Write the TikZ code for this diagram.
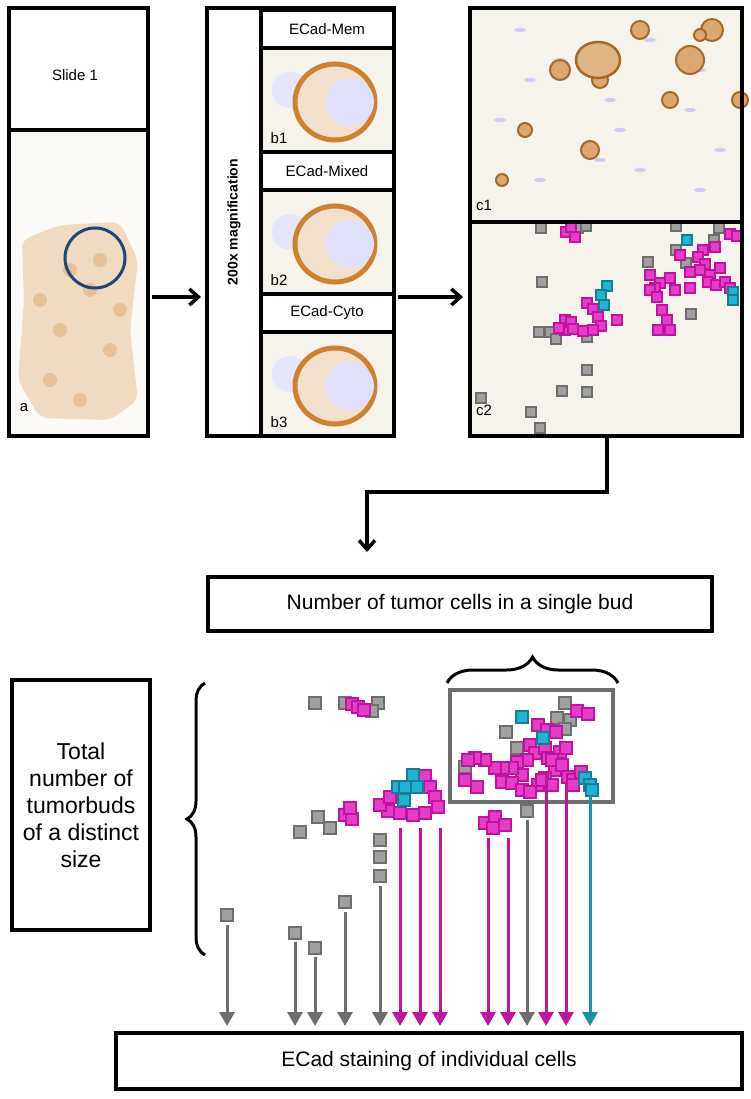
\documentclass[tikz,border=0pt]{standalone}
\usepackage{fontspec}
\setmainfont{Liberation Sans}
\usetikzlibrary{arrows.meta,decorations.pathreplacing}
\definecolor{budmag}{RGB}{230,60,200}
\definecolor{budmagd}{RGB}{190,20,160}
\definecolor{budcya}{RGB}{30,180,210}
\definecolor{budgry}{RGB}{160,160,160}
\definecolor{budgryd}{RGB}{110,110,110}
\definecolor{stain}{RGB}{205,130,50}
\definecolor{tissue}{RGB}{246,242,236}
\newcommand\sqsize{6}

\begin{document}
\begin{tikzpicture}[x=1pt,y=-1pt,
panel/.style={draw=black,line width=4pt},
lab/.style={font=\fontsize{15}{17}\selectfont},
magsq/.style={fill=budmag,draw=budmagd,line width=1.2pt},
cyasq/.style={fill=budcya,draw=budcya!70!black,line width=1.2pt},
grysq/.style={fill=budgry,draw=budgryd,line width=1.2pt},
magarr/.style={draw=budmagd,line width=3pt,-{Triangle[length=14pt,width=15pt]}},
cyaarr/.style={draw=budcya!80!black,line width=3pt,-{Triangle[length=14pt,width=15pt]}},
gryarr/.style={draw=budgryd,line width=3pt,-{Triangle[length=14pt,width=15pt]}},
flowarr/.style={line width=3.5pt,-{Straight Barb[length=9pt,width=16pt]}}
]
\useasboundingbox (0,0) rectangle (750,1099);

% panel a
\fill[tissue!40] (11,132) rectangle (146,434);
\fill[stain!30,rounded corners=8pt] (22,240) -- (60,225) -- (120,222) -- (138,260) -- (130,330) -- (138,400) -- (110,420) -- (40,418) -- (18,380) -- (24,300) -- cycle;
\foreach \px/\py in {40/300,60/330,90/290,110/350,50/380,80/400,100/260,70/270,120/310}
  \fill[stain!50] (\px,\py) circle (7);
\draw[panel] (9,8) rectangle (148,436);
\draw[panel] (9,130) -- (148,130);
\node[lab] (slide) at (75,75) {Slide 1};
\draw[draw={rgb,255:red,30;green,70;blue,120},line width=3pt] (95,258) ellipse (30 and 30);
\node[lab] (alab) at (24,408) {a};

% panel b
\draw[panel] (207,8) rectangle (394,436);
\draw[panel] (261,8) -- (261,436);
\node[rotate=90,font=\fontsize{14}{16}\selectfont\bfseries] (mag) at (234,222) {200x magnification};
\foreach \ty/\txt/\nm [count=\k] in {10/ECad-Mem/b1,152/ECad-Mixed/b2,294/ECad-Cyto/b3}{
  \draw[panel] (261,\ty) rectangle (394,\ty+38);
  \node[lab] (t\k) at (327,\ty+19) {\txt};
  \fill[tissue] (263,\ty+40) rectangle (392,\ty+140);
  \fill[black!12!blue!10] (290,\ty+80) circle (18);
  \draw[stain,line width=5pt,fill=stain!25] (335,\ty+92) ellipse (40 and 38);
  \fill[black!10!blue!12] (350,\ty+92) circle (24);
  \node[lab] (\nm) at (279,\ty+128) {\nm};
  \draw[panel] (261,\ty+38) -- (394,\ty+38) (261,\ty+142) -- (394,\ty+142);
}

% panel c
\fill[tissue] (470,8) rectangle (742,436);
\foreach \px/\py in {560/60,610/100,650/40,700/70,530/80,690/110,500/120,720/150,540/180,600/160,520/30,640/170,700/190,620/130}
  \fill[black!15!blue!20] (\px,\py) ellipse (6 and 2);
\foreach \px/\py/\r in {560/70/10,600/80/8,640/30/9,690/60/14,712/30/11,740/100/8,525/130/7,502/180/6,590/150/9,670/100/8,700/35/6}
  \draw[stain!80!black,line width=2pt,fill=stain!70] (\px,\py) circle (\r);
\draw[stain!80!black,line width=2.5pt,fill=stain!60] (598,60) ellipse (22 and 18);
\foreach \px/\py in {541/228,578/228,586/226,676/226,719/228,714/240,676/250,686/263,648/262,542/282,539/332,550/332,556/339,587/337,587/370,587/392,562/391,481/398,531/412,540/428,691/314}
  \draw[grysq] (\px-5,\py-5) rectangle ++(10,10);
\foreach \px/\py in {566/232,575/237,571/227,730/234,737/236,715/247,703/250,698/257,705/264,680/255,690/272,700/270,710/275,720/268,708/282,716/285,725/282,730/288,670/278,650/275,660/283,655/288,675/290,690/288,650/290,657/297,565/320,565/330,571/322,559/328,587/303,593/309,598/317,601/326,593/330,583/331,573/329,617/320,662/310,667/320,658/330,670/330}
  \draw[magsq] (\px-5,\py-5) rectangle ++(10,10);
\foreach \px/\py in {687/240,607/286,601/295,604/305,733/292,733/300}
  \draw[cyasq] (\px-5,\py-5) rectangle ++(10,10);
\draw[panel] (470,8) rectangle (742,436);
\draw[panel] (470,222) -- (742,222);
\node[lab] (c1) at (484,205) {c1};
\node[lab] (c2) at (484,410) {c2};

% flow
\draw[flowarr] (152,297) -- (201,297);
\draw[flowarr] (398,297) -- (463,297);
\coordinate (cdown) at (607,437);
\coordinate (tdown) at (367,552);
\draw[flowarr] (cdown) -- (607,492) -- (367,492) -- (tdown);

% lower boxes
\node[panel,minimum width=504pt,minimum height=54pt,font=\fontsize{21}{24}\selectfont] (num) at (460,604) {Number of tumor cells in a single bud};
\node[panel,minimum width=138pt,minimum height=250pt,align=center,font=\fontsize{23}{27}\selectfont] (tot) at (81,805) {Total\\number of\\tumorbuds\\of a distinct\\size};
\node[panel,minimum width=626pt,minimum height=56pt,font=\fontsize{21}{24}\selectfont] (ecad) at (429,1061) {ECad staining of individual cells};
\draw[line width=3pt,decorate,decoration={brace,amplitude=26pt}] (447,683) -- (618,683);
\draw[line width=3pt,decorate,decoration={brace,amplitude=18pt,mirror}] (205,683) -- (205,955);
\draw[budgryd,line width=3.5pt] (450,690) rectangle (613,802);

% buds
\foreach \px/\py in {315/703,345/703,378/703,372/711,318/817,330/828,300/832,565/703,557/718,570/720,565/729,506/732,517/748,465/767,527/811,227/915,295/933,315/948,345/902,380/876,380/857,380/840}
  \draw[grysq] (\px-\sqsize,\py-\sqsize) rectangle ++(12,12);
\foreach \px/\py in {352/704,358/707,364/710,345/815,352/819,350/808,425/776,430/787,435/797,438/807,425/813,413/815,400/813,388/811,380/805,390/797,485/823,495/817,505/825,493/828,577/711,588/714,538/725,547/730,556/732,530/745,535/753,527/760,517/762,545/748,548/758,560/752,566/748,555/770,545/778,538/785,522/775,512/768,503/768,495/768,485/760,475/758,468/760,465/780,477/787,502/782,512/783,522/790,530/792,542/780,552/760,562/765,568/777,573/780,581/772,573/785,552/785}
  \draw[magsq] (\px-\sqsize,\py-\sqsize) rectangle ++(12,12);
\foreach \px/\py in {522/717,543/738,585/778,590/785,592/790,413/775,398/787,405/787,417/787,404/800}
  \draw[cyasq] (\px-\sqsize,\py-\sqsize) rectangle ++(12,12);

% arrows to staining
\foreach \px/\py in {227/925,295/942,315/957,345/912,380/886,527/820}
  \draw[gryarr] (\px,\py) -- (\px,1026);
\foreach \px/\py in {400/828,420/828,440/828,488/838,508/838,546/775,566/784}
  \draw[magarr] (\px,\py) -- (\px,1026);
\draw[cyaarr] (590,796) -- (590,1026);
\end{tikzpicture}
\end{document}
